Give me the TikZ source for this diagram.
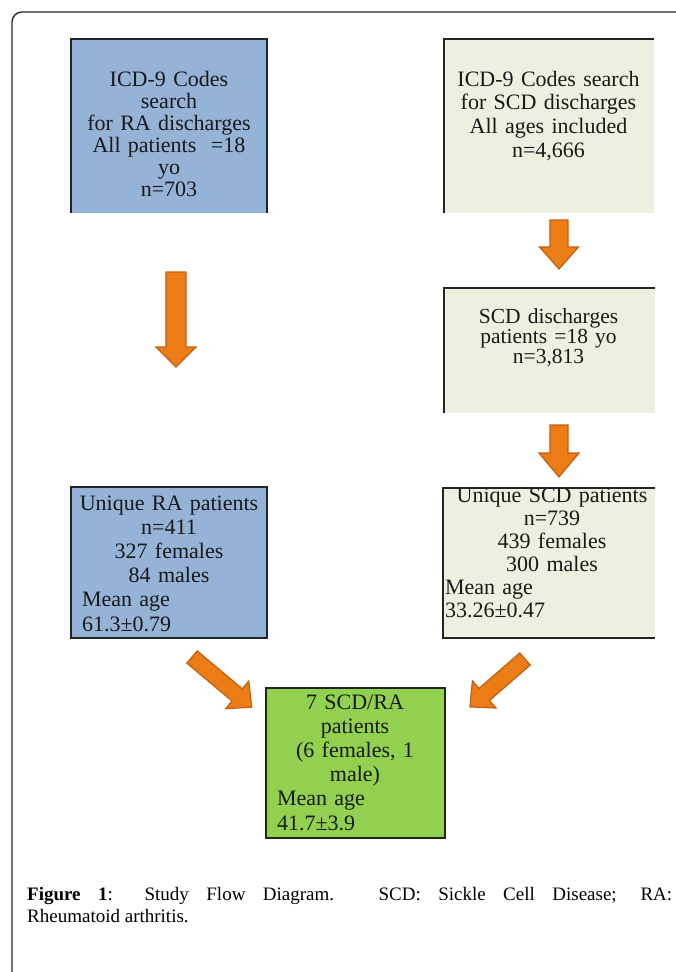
\documentclass[tikz,border=0pt]{standalone}
\usepackage{fontspec}
\setmainfont{Liberation Serif}
\setlength{\lineskiplimit}{-30pt}
\definecolor{rablue}{RGB}{149,179,215}
\definecolor{scdlight}{RGB}{235,241,222}
\definecolor{bothgreen}{RGB}{146,208,80}
\definecolor{arrowfill}{RGB}{236,125,22}
\definecolor{arrowline}{RGB}{192,96,16}
\definecolor{boxline}{RGB}{35,35,35}
\definecolor{textdark}{RGB}{25,25,25}
\newcommand\myleft[2]{\makebox[#1][l]{#2}}
\newcommand\firststrut{\rule{0pt}{18pt}}
\newcommand\blockarrow[6]{%
  \begin{scope}[shift={(#1)},rotate=#2]
    \draw[arr] (0,-#4/2) -- (#3-#6,-#4/2) -- (#3-#6,-#5/2) -- (#3,0)
      -- (#3-#6,#5/2) -- (#3-#6,#4/2) -- (0,#4/2) -- cycle;
  \end{scope}}
\begin{document}
\begin{tikzpicture}[x=1pt,y=-1pt,
  boxfill/.style={anchor=north west, inner sep=0pt, outer sep=0pt, draw=none},
  bline/.style={draw=boxline, line width=1.3pt},
  txt/.style={anchor=north, inner sep=0pt, outer sep=0pt, text width=240pt, align=center, text=textdark},
  fsz/.style={font=\fontsize{22}{#1}\selectfont},
  arr/.style={fill=arrowfill, draw=arrowline, line width=1.2pt, line join=miter},
  frame/.style={draw=black!85, line width=1.4pt, rounded corners=10pt},
  captxt/.style={anchor=base west, inner sep=0pt, text=black, font=\fontsize{19}{22}\selectfont}
]
\useasboundingbox (0,0) rectangle (675,972);
\fill[white] (0,0) rectangle (675,972);

% outer frame
\coordinate (frameBL) at (12,980);
\coordinate (frameTL) at (12,12);
\coordinate (frameTR) at (690,12);
\draw[frame] (frameBL) -- (frameTL) -- (frameTR);

% boxes
\node[boxfill, fill=rablue, minimum width=196pt, minimum height=174pt] (A) at (71,39) {};
\node[boxfill, fill=scdlight, minimum width=210pt, minimum height=174pt] (B) at (444,39) {};
\node[boxfill, fill=scdlight, minimum width=211pt, minimum height=125pt] (C) at (444,288) {};
\node[boxfill, fill=rablue, minimum width=196pt, minimum height=151pt] (D) at (71,487) {};
\node[boxfill, fill=scdlight, minimum width=212pt, minimum height=150pt] (E) at (443,488) {};
\node[boxfill, fill=bothgreen, minimum width=179pt, minimum height=150pt] (F) at (266,688) {};

\draw[bline] (A.south west) -- (A.north west) -- (A.north east) -- (A.south east);
\draw[bline] (B.south west) -- (B.north west) -- (B.north east);
\draw[bline] (C.south west) -- (C.north west) -- (C.north east);
\draw[bline] (D.north west) rectangle (D.south east);
\draw[bline] (E.north east) -- (E.north west) -- (E.south west) -- (E.south east);
\draw[bline] (F.north west) rectangle (F.south east);

% texts
\node[txt, fsz=22] (At) at (169,68) {\firststrut ICD-9 Codes\\search\\for RA discharges\\All patients\ \ =18\\yo\\n=703};
\node[txt, fsz=23.7] (Bt) at (548.5,68) {\firststrut ICD-9 Codes search\\for SCD discharges\\All ages included\\n=4,666};
\node[txt, font=\fontsize{21.5}{20}\selectfont] (Ct) at (548.5,305) {\firststrut SCD discharges\\patients =18 yo\\n=3,813};
\node[txt, fsz=24.2] (Dt) at (169,492) {\firststrut Unique RA patients\\n=411\\327 females\\84 males\\\myleft{174pt}{Mean age}\\\myleft{174pt}{61.3±0.79}};
\node[txt, fsz=23] (Et) at (552,484) {\firststrut Unique SCD patients\\n=739\\439 females\\300 males\\\myleft{214pt}{Mean age}\\\myleft{214pt}{33.26±0.47}};
\node[txt, fsz=24.2] (Ft) at (355,691) {\firststrut 7 SCD/RA\\patients\\(6 females, 1\\male)\\\myleft{156pt}{Mean age}\\\myleft{156pt}{41.7±3.9}};

% block arrows
\coordinate (arA) at (176,272);
\coordinate (arB) at (559,220);
\coordinate (arC) at (559,425);
\coordinate (arD) at (192,657);
\coordinate (arE) at (525,659);
\blockarrow{arA}{-90}{95}{20}{40}{20}
\blockarrow{arB}{-90}{49}{18}{39}{22}
\blockarrow{arC}{-90}{52}{18}{40}{24}
\blockarrow{arD}{-40}{78}{16}{36}{19}
\blockarrow{arE}{-139}{73}{16}{36}{19}

% caption
\node[captxt] (cap1) at (27,900) {\makebox[645pt][s]{\textbf{Figure 1}: Study Flow Diagram. SCD: Sickle Cell Disease; RA:}};
\node[captxt] (cap2) at (27,922) {Rheumatoid arthritis.};
\end{tikzpicture}
\end{document}
